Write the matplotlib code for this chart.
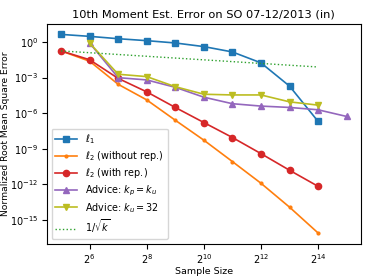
import matplotlib
matplotlib.use("Agg")
import matplotlib.pyplot as plt

plt.rcParams['mathtext.fontset'] = 'dejavusans'
plt.rcParams['font.size'] = 6.8

k_main = [2**5, 2**6, 2**7, 2**8, 2**9, 2**10, 2**11, 2**12, 2**13, 2**14]
k_adv = [2**6, 2**7, 2**8, 2**9, 2**10, 2**11, 2**12, 2**13, 2**14, 2**15]
k_adv32 = [2**6, 2**7, 2**8, 2**9, 2**10, 2**11, 2**12, 2**13, 2**14]

err_l1 = [4.4, 3.0, 1.9, 1.3, 0.83, 0.41, 0.145, 0.0174, 1.9e-4, 2.0e-7]
err_l2_norep = [0.178, 0.024, 2.7e-4, 1.3e-5, 2.5e-7, 5.2e-9, 8.1e-11, 1.2e-12, 1.15e-14, 7.6e-17]
err_l2_rep = [0.178, 0.032, 8.5e-4, 6.2e-5, 3.0e-6, 1.6e-7, 8.7e-9, 3.8e-10, 1.5e-11, 6.6e-13]
err_adv_eq = [0.83, 9.8e-4, 6.3e-4, 1.5e-4, 2.2e-5, 6.2e-6, 3.9e-6, 3.0e-6, 1.9e-6, 5.2e-7]
err_adv_32 = [0.83, 1.9e-3, 1.2e-3, 1.7e-4, 3.9e-5, 3.4e-5, 3.4e-5, 8.9e-6, 4.7e-6]
inv_sqrt_k = [0.177, 0.125, 0.0884, 0.0625, 0.0442, 0.03125, 0.0221, 0.0156, 0.0110, 0.0078]

fig = plt.figure(figsize=(3.74, 2.80), dpi=100)
ax = fig.add_axes([0.125, 0.129, 0.840, 0.784])

ax.plot(k_main, err_l1, color='C0', marker='s', ms=4.5, lw=1.2, label=r'$\ell_1$')
ax.plot(k_main, err_l2_norep, color='C1', marker='.', ms=4, lw=1.2, label=r'$\ell_2$ (without rep.)')
ax.plot(k_main, err_l2_rep, color='C3', marker='o', ms=4.5, lw=1.2, label=r'$\ell_2$ (with rep.)')
ax.plot(k_adv, err_adv_eq, color='C4', marker='^', ms=4.5, lw=1.2, label=r'Advice: $k_p = k_u$')
ax.plot(k_adv32, err_adv_32, color='C8', marker='v', ms=4.5, lw=1.2, label=r'Advice: $k_u = 32$')
ax.plot(k_main, inv_sqrt_k, color='C2', ls=':', lw=1.0, label=r'$1/\sqrt{k}$')

ax.set_xscale('log', base=2)
ax.set_yscale('log')
ax.set_xticks([2**6, 2**8, 2**10, 2**12, 2**14])
ax.set_xticklabels([r'$2^{6}$', r'$2^{8}$', r'$2^{10}$', r'$2^{12}$', r'$2^{14}$'])
ax.set_yticks([1e0, 1e-3, 1e-6, 1e-9, 1e-12, 1e-15])
ax.set_yticklabels([r'$10^{0}$', r'$10^{-3}$', r'$10^{-6}$', r'$10^{-9}$', r'$10^{-12}$', r'$10^{-15}$'])
ax.minorticks_off()
ax.tick_params(labelsize=7.0, pad=2.5)
ax.set_xlim(2**4.5, 2**15.5)
ax.set_ylim(10**-17.04, 10**1.49)

ax.set_title('10th Moment Est. Error on SO 07-12/2013 (in)', fontsize=8.2, pad=5)
ax.set_xlabel('Sample Size', labelpad=1)
ax.set_ylabel('Normalized Root Mean Square Error', fontsize=6.6)
ax.yaxis.set_label_coords(-0.118, 0.5)
ax.legend(loc='lower left', fontsize=6.9, labelspacing=0.32, handlelength=2.3)

fig.savefig('out.png', dpi=100)
